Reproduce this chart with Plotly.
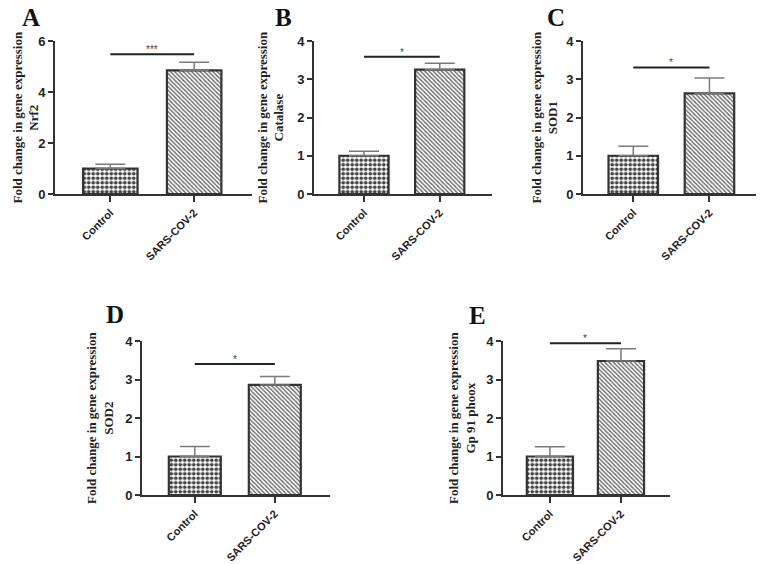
import plotly.graph_objects as go

categories = ["Control", "SARS-COV-2"]
panel_letters = ["A", "B", "C", "D", "E"]
genes = ["Nrf2", "Catalase", "SOD1", "SOD2", "Gp 91 phoox"]
control_mean = [1.0, 1.0, 1.0, 1.0, 1.0]
control_err = [0.17, 0.12, 0.25, 0.26, 0.25]
sars_mean = [4.85, 3.25, 2.63, 2.86, 3.48]
sars_err = [0.32, 0.17, 0.40, 0.22, 0.32]
sig_y = [5.48, 3.59, 3.31, 3.40, 3.94]
sig_labels = ["***", "*", "*", "*", "*"]
y_max = [6, 4, 4, 4, 4]
y_dtick = [2, 1, 1, 1, 1]

# page has an 8px body margin; figure pixels = page pixels - OFF
OFF = 8
W, H = 756, 556
# panel placement in page pixels: (left, right, top, bottom)
boxes = [(55, 252, 41, 194), (314, 492, 41, 194), (583, 762, 41, 194),
         (142, 330, 341, 495), (503, 670, 341, 495)]
title_x = [25, 270, 544, 100, 462]
letter_pos = [(31, 17), (283, 17), (556, 17), (115, 314), (477, 315)]


def px(x):
    return (x - OFF) / W


def py(y):
    return 1 - (y - OFF) / H


SANS = "Liberation Sans, Arial, sans-serif"
SERIF = "Liberation Serif, Times New Roman, serif"
AX = "#333333"

fig = go.Figure()
layout = dict(width=W, height=H, margin=dict(l=0, r=0, t=0, b=0, autoexpand=False),
              paper_bgcolor="white", plot_bgcolor="white", showlegend=False,
              annotations=[], shapes=[])

for i in range(5):
    n = "" if i == 0 else str(i + 1)
    l, r, t, b = boxes[i]
    fig.add_trace(go.Bar(
        x=categories, y=[control_mean[i], sars_mean[i]],
        xaxis="x" + n, yaxis="y" + n, width=0.65,
        marker=dict(
            color=["#444444", "#666666"],
            line=dict(color=AX, width=2.2),
            pattern=dict(shape=[".", "\\"], fgcolor=["#2a2a2a", "#484848"],
                         bgcolor=["#e8e8e8", "#ababab"], size=[4.5, 3],
                         solidity=[0.55, 0.45], fillmode="replace"),
        ),
        error_y=dict(type="data", symmetric=False,
                     array=[control_err[i], sars_err[i]], arrayminus=[0, 0],
                     color="#7a7a7a", thickness=1.5, width=15),
    ))
    layout["xaxis" + n] = dict(
        domain=[px(l), min(px(r), 1.0)], anchor="y" + n, range=[-0.66, 1.69],
        automargin=False,
        showline=True, linecolor=AX, linewidth=2, ticks="outside",
        ticklen=6, tickwidth=1.5, tickcolor=AX, tickangle=-45,
        tickfont=dict(family=SANS, size=11, color="#222", weight="bold"),
        showgrid=False, zeroline=False, fixedrange=True)
    layout["yaxis" + n] = dict(
        domain=[py(b), py(t)], anchor="x" + n, range=[0, y_max[i]],
        automargin=False,
        dtick=y_dtick[i], showline=True, linecolor=AX, linewidth=2,
        ticks="outside", ticklen=5, tickwidth=1.5, tickcolor=AX,
        tickfont=dict(family=SANS, size=13, color="#222", weight="bold"),
        showgrid=False, zeroline=False, fixedrange=True)
    # significance bar
    layout["shapes"].append(dict(type="line", xref="x" + n, yref="y" + n,
                                 x0=0.0, x1=1.0, y0=sig_y[i], y1=sig_y[i],
                                 line=dict(color="#222", width=2)))
    layout["annotations"].append(dict(
        xref="x" + n, yref="y" + n, x=0.5, y=sig_y[i], text=sig_labels[i],
        showarrow=False, yanchor="bottom", yshift=-3,
        font=dict(family=SANS, size=10, color="#444")))
    # y-axis title
    layout["annotations"].append(dict(
        xref="paper", yref="paper", x=px(title_x[i]), y=py((t + b) / 2),
        xanchor="center", yanchor="middle", textangle=-90, showarrow=False,
        text="Fold change in gene expression<br>" + genes[i],
        font=dict(family=SERIF, size=13, color="#222", weight="bold")))
    # panel letter
    lx, ly = letter_pos[i]
    layout["annotations"].append(dict(
        xref="paper", yref="paper", x=px(lx), y=py(ly),
        xanchor="center", yanchor="middle", showarrow=False, borderpad=0,
        text=panel_letters[i],
        font=dict(family=SERIF, size=25, color="#111", weight="bold")))

fig.update_layout(**layout)
fig.write_html("out.html")
